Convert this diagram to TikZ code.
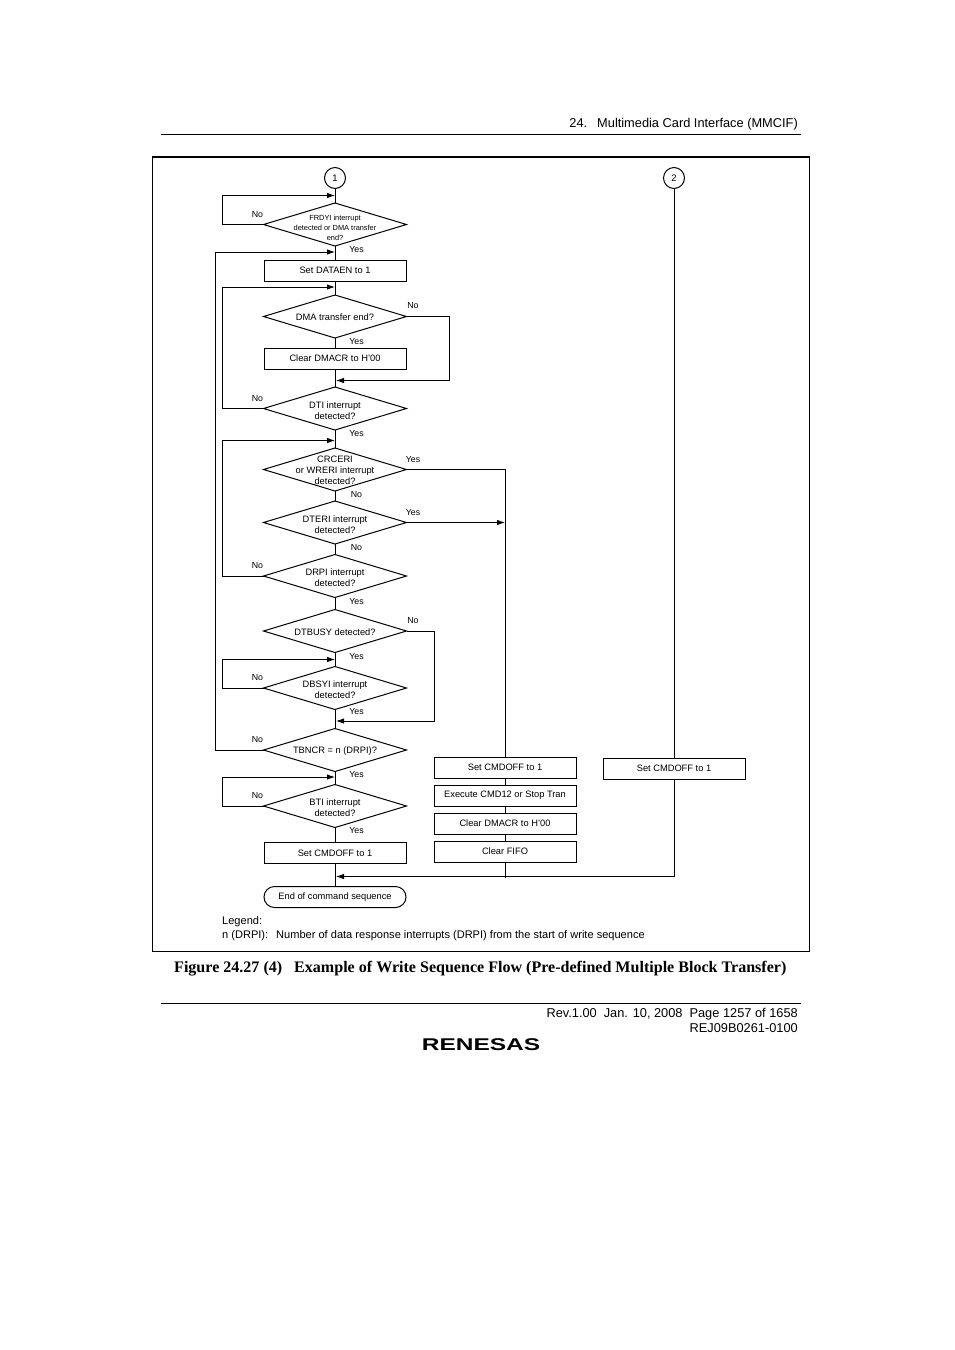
\documentclass[tikz,border=0pt]{standalone}
\usepackage{fontspec}
\setmainfont{Liberation Sans}
\newfontfamily\capfont{Liberation Serif}
\usepackage{tikz}
\usetikzlibrary{positioning,shapes.geometric,shapes.misc,arrows.meta}
\tikzset{
  decision/.style={diamond,draw,minimum width=143pt,minimum height=43pt,inner sep=0pt,outer sep=0pt,line width=1pt},
  dtext/.style={align=center,yshift=-.7pt,font=\fontsize{9.3pt}{10.8pt}\selectfont},
  dtwo/.style={dtext,yshift=-1.3pt},
  dsmall/.style={align=center,yshift=-3pt,font=\fontsize{7.4pt}{10pt}\selectfont},
  procbox/.style={rectangle,draw,minimum width=142pt,minimum height=21pt,inner sep=0pt,outer sep=0pt,line width=1pt,font=\fontsize{9.3pt}{11pt}\selectfont},
  endbox/.style={procbox,rounded rectangle},
  connector/.style={circle,draw,minimum size=21pt,inner sep=0pt,outer sep=0pt,line width=1pt,font=\fontsize{9.5pt}{11pt}\selectfont},
  yn/.style={inner sep=0pt,yshift=-.7pt,font=\fontsize{8.8pt}{10pt}\selectfont},
  pagetext/.style={inner sep=0pt,font=\fontsize{12.8pt}{15pt}\selectfont},
  legendtext/.style={inner sep=0pt,font=\fontsize{11.05pt}{13pt}\selectfont},
  flow/.style={line width=.9pt},
  flowarr/.style={line width=.9pt,-{Latex[length=8pt,width=5.5pt]}}
}

\begin{document}
\begin{tikzpicture}[x=1pt,y=-1pt]
\useasboundingbox (0,0) rectangle (954,1350);

% page furniture
\coordinate (headl) at (161,134.5);
\coordinate (headr) at (801,134.5);
\coordinate (footl) at (161,1003.5);
\coordinate (footr) at (801,1003.5);
\draw[line width=.8pt] (headl)--(headr);
\draw[line width=.8pt] (footl)--(footr);
\node[pagetext,anchor=east] (head) at (798,124) {24.\hspace{10pt}Multimedia Card Interface (MMCIF)};
\node[draw,minimum width=657pt,minimum height=794pt,inner sep=0pt,line width=.8pt] (frame) at (481,554) {};
\draw[line width=2pt] (frame.north west)--(frame.north east);

% main column
\node[connector] (one) at (335,178) {1};
\node[connector] (two) at (674,178) {2};
\node[decision,label={[dsmall]center:FRDYI interrupt\\detected or DMA transfer\\end?}] (frdy) at (335,224.5) {};
\node[procbox,below=14pt of frdy] (dataen) {Set DATAEN to 1};
\node[decision,below=14pt of dataen,label={[dtext]center:DMA transfer end?}] (dma) {};
\node[procbox,below=10pt of dma] (clr) {Clear DMACR to H'00};
\node[decision,below=18pt of clr,label={[dtwo]center:DTI interrupt\\detected?}] (dti) {};
\node[decision,below=18pt of dti,label={[dtext]center:CRCERI\\or WRERI interrupt\\detected?}] (crc) {};
\node[decision,below=10pt of crc,label={[dtwo]center:DTERI interrupt\\detected?}] (dter) {};
\node[decision,below=10.5pt of dter,label={[dtwo]center:DRPI interrupt\\detected?}] (drpi) {};
\node[decision,below=12pt of drpi,label={[dtext]center:DTBUSY detected?}] (busy) {};
\node[decision,below=14pt of busy,label={[dtwo]center:DBSYI interrupt\\detected?}] (dbsy) {};
\node[decision,below=19pt of dbsy,label={[dtext]center:TBNCR = n (DRPI)?}] (tbn) {};
\node[decision,below=13pt of tbn,label={[dtwo]center:BTI interrupt\\detected?}] (bti) {};
\node[procbox,below=15pt of bti] (off) {Set CMDOFF to 1};
\node[endbox,below=23pt of off] (fin) {End of command sequence};

% right columns
\node[procbox] (cmda) at (505,767.5) {Set CMDOFF to 1};
\node[procbox,below=7pt of cmda] (exec) {Execute CMD12 or Stop Tran};
\node[procbox,below=7pt of exec] (clrb) {Clear DMACR to H'00};
\node[procbox,below=7pt of clrb] (fifo) {Clear FIFO};
\node[procbox] (cmdb) at (674,768.5) {Set CMDOFF to 1};

% Yes and No
\node[yn] (n1) at (257.5,214) {No};
\node[yn] (y1) at (356.5,249) {Yes};
\node[yn] (n2) at (413,305) {No};
\node[yn] (y2) at (356.5,341) {Yes};
\node[yn] (n3) at (257.5,398) {No};
\node[yn] (y3) at (356.5,433) {Yes};
\node[yn] (y4) at (413,459) {Yes};
\node[yn] (n4) at (356.5,494) {No};
\node[yn] (y5) at (413,512) {Yes};
\node[yn] (n5) at (356.5,547) {No};
\node[yn] (n6) at (257.5,565) {No};
\node[yn] (y6) at (356.5,601) {Yes};
\node[yn] (n7) at (413,620) {No};
\node[yn] (y7) at (356.5,656) {Yes};
\node[yn] (n8) at (257.5,677) {No};
\node[yn] (y8) at (356.5,711) {Yes};
\node[yn] (n9) at (257.5,739) {No};
\node[yn] (y9) at (356.5,774) {Yes};
\node[yn] (n10) at (257.5,795) {No};
\node[yn] (y10) at (356.5,830) {Yes};

% straight runs
\draw[flow] (one)--(frdy.north);
\draw[flow] (frdy.south)--(dataen);
\draw[flow] (dataen)--(dma.north);
\draw[flow] (dma.south)--(clr);
\draw[flow] (clr)--(dti.north);
\draw[flow] (dti.south)--(crc.north);
\draw[flow] (crc.south)--(dter.north);
\draw[flow] (dter.south)--(drpi.north);
\draw[flow] (drpi.south)--(busy.north);
\draw[flow] (busy.south)--(dbsy.north);
\draw[flow] (dbsy.south)--(tbn.north);
\draw[flow] (tbn.south)--(bti.north);
\draw[flow] (bti.south)--(off);
\draw[flow] (off)--(fin);
\draw[flow] (cmda)--(exec);
\draw[flow] (exec)--(clrb);
\draw[flow] (clrb)--(fifo);
\draw[flow] (two)--(cmdb);

% loops back
\coordinate (j1) at (335,195.5);
\coordinate (l1) at (222,195.5);
\coordinate (j2) at (335,252);
\coordinate (l2) at (215.5,252);
\coordinate (j3) at (335,287);
\coordinate (l3) at (222,287);
\coordinate (j4) at (335,440.5);
\coordinate (l4) at (222,440.5);
\coordinate (j5) at (335,659.5);
\coordinate (l5) at (222,659.5);
\coordinate (j6) at (335,777);
\coordinate (l6) at (222,777);
\draw[flowarr] (frdy.west)-|(l1)--(j1);
\draw[flowarr] (tbn.west)-|(l2)--(j2);
\draw[flowarr] (dti.west)-|(l3)--(j3);
\draw[flowarr] (drpi.west)-|(l4)--(j4);
\draw[flowarr] (dbsy.west)-|(l5)--(j5);
\draw[flowarr] (bti.west)-|(l6)--(j6);

% skips on the right
\coordinate (r1) at (449,380.5);
\coordinate (j7) at (336,380.5);
\coordinate (r2) at (434.5,721);
\coordinate (j8) at (336,721);
\coordinate (j9) at (336,876.5);
\coordinate (tail) at (505,877.5);
\coordinate (j10) at (tail|-dter.east);
\draw[flowarr] (dma.east)-|(r1)--(j7);
\draw[flowarr] (busy.east)-|(r2)--(j8);
\draw[flow] (crc.east)-|(cmda.north);
\draw[flowarr] (dter.east)--(j10);
\draw[flow] (fifo)--(tail);
\draw[flowarr] (cmdb.south)|-(j9);

% legend and caption
\node[legendtext,anchor=west] (leg) at (222,922) {Legend:};
\node[legendtext,anchor=west] (legn) at (222,936) {n (DRPI):\hspace{8pt}Number of data response interrupts (DRPI) from the start of write sequence};
\node[inner sep=0pt,anchor=west,font=\capfont\bfseries\fontsize{16.05pt}{18pt}\selectfont] (cap) at (174,968.5) {Figure 24.27 (4)\hspace{12pt}Example of Write Sequence Flow (Pre-defined Multiple Block Transfer)};
\node[pagetext,anchor=east] (rev) at (798,1014) {Rev.1.00\hspace{7pt}Jan. 10, 2008\hspace{7pt}Page 1257 of 1658};
\node[pagetext,anchor=east] (rej) at (798,1028.5) {REJ09B0261-0100};
\node[inner sep=0pt,xscale=1.44,font=\bfseries\fontsize{17pt}{20pt}\selectfont] (logo) at (481,1044.5) {RENESAS};
\end{tikzpicture}
\end{document}
